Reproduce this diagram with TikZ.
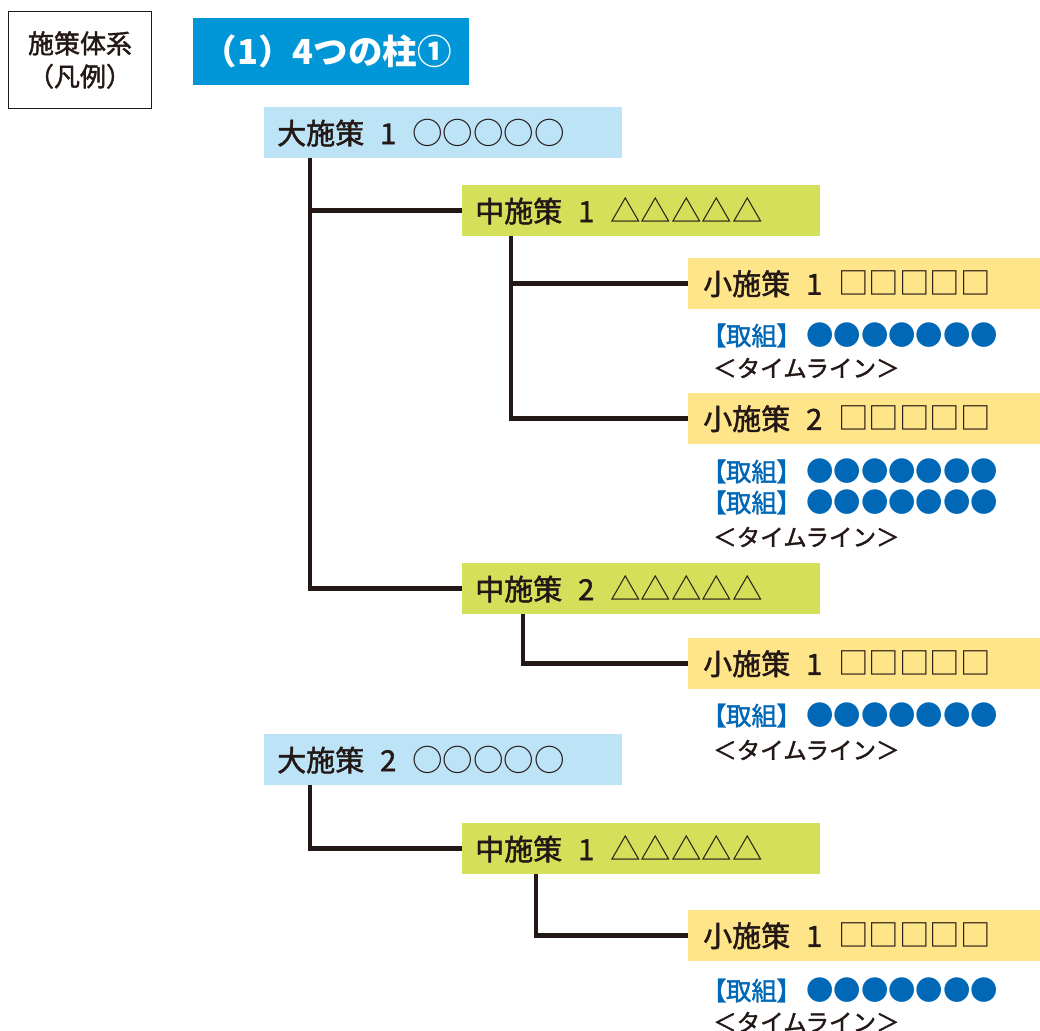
\documentclass[tikz,border=0pt]{standalone}
\usepackage{fontspec}
\setmainfont{Noto Sans CJK JP}[FakeBold=1.6]
\newfontfamily\paltfont{Noto Sans CJK JP}[RawFeature=+palt, FakeBold=1.6]
\newfontfamily\plainfont{Noto Sans CJK JP}
\definecolor{ink}{HTML}{231815}
\definecolor{titleblue}{HTML}{0096D8}
\definecolor{bigfill}{HTML}{BDE3F7}
\definecolor{midfill}{HTML}{D4E05A}
\definecolor{smallfill}{HTML}{FFE58A}
\definecolor{actblue}{HTML}{0068B7}
\tikzset{
  box/.style={rectangle, anchor=north west, inner xsep=13pt, inner ysep=0pt, align=left,
    font=\fontsize{29}{32}\selectfont, text=ink, minimum height=51pt},
  bigbox/.style={box, fill=bigfill, text width=332pt},
  midbox/.style={box, fill=midfill, text width=332pt},
  smallbox/.style={box, fill=smallfill, inner xsep=15pt, text width=322pt},
  act/.style={anchor=west, inner sep=0pt, font=\fontsize{25.5}{27}\selectfont, text=actblue},
  tl/.style={anchor=west, inner sep=0pt, font=\fontsize{23.5}{26}\selectfont, text=ink},
  link/.style={draw=ink, line width=4.5pt}
}
\newcommand{\gap}{\hspace{16pt}}
\newcommand{\sym}[1]{{\plainfont\fontsize{30.5}{32}\selectfont #1}}
\newcommand{\actline}{\makebox[93pt][l]{\paltfont 【取組】}{\plainfont\fontsize{27.4}{28}\selectfont ●●●●●●●}}
\begin{document}
\begin{tikzpicture}[x=1pt,y=-1pt]
\useasboundingbox (0,0) rectangle (1040,1030);
% legend
\node[draw=ink, line width=1pt, anchor=north west, minimum width=143pt, minimum height=97pt,
  align=center, font=\fontsize{26}{33}\selectfont, text=ink, inner sep=0pt] (legend) at (8,11) {施策体系\\（凡例）};
% title
\node[fill=titleblue, anchor=north west, minimum width=276pt, minimum height=67pt,
  font=\plainfont\bfseries\fontsize{34.5}{38}\selectfont, text=white, inner sep=0pt] (title) at (193,18) {\hspace{-8pt}（1）4つの柱①};

% 大施策1
\node[bigbox] (d1) at (264,107) {大施策\gap 1\gap\sym{○○○○○}};
\node[midbox] (m1) at (462,185) {中施策\gap 1\gap\sym{△△△△△}};
\node[smallbox] (s1) at (688,258) {小施策\gap 1\gap\sym{□□□□□}};
\node[act] (a1) at (713,335) {\actline};
\node[tl] (t1) at (713,368) {＜タイムライン＞};
\node[smallbox] (s2) at (688,393) {小施策\gap 2\gap\sym{□□□□□}};
\node[act] (a2) at (713,471) {\actline};
\node[act] (a3) at (713,502) {\actline};
\node[tl] (t2) at (713,537) {＜タイムライン＞};
\node[midbox] (m2) at (462,563) {中施策\gap 2\gap\sym{△△△△△}};
\node[smallbox] (s3) at (688,638) {小施策\gap 1\gap\sym{□□□□□}};
\node[act] (a4) at (713,715) {\actline};
\node[tl] (t3) at (713,750) {＜タイムライン＞};

% 大施策2
\node[bigbox] (d2) at (264,734) {大施策\gap 2\gap\sym{○○○○○}};
\node[midbox] (m3) at (462,823) {中施策\gap 1\gap\sym{△△△△△}};
\node[smallbox] (s4) at (688,910) {小施策\gap 1\gap\sym{□□□□□}};
\node[act] (a5) at (713,990) {\actline};
\node[tl] (t4) at (713,1022) {＜タイムライン＞};

% connectors
\draw[link] ([xshift=46pt]d1.south west) |- (m2.west);
\draw[link] ([xshift=46pt]d1.south west) |- (m1.west);
\draw[link] ([xshift=49pt]m1.south west) |- (s2.west);
\draw[link] ([xshift=49pt]m1.south west) |- (s1.west);
\draw[link] ([xshift=61pt]m2.south west) |- (s3.west);
\draw[link] ([xshift=46pt]d2.south west) |- (m3.west);
\draw[link] ([xshift=74pt]m3.south west) |- (s4.west);
\end{tikzpicture}
\end{document}
